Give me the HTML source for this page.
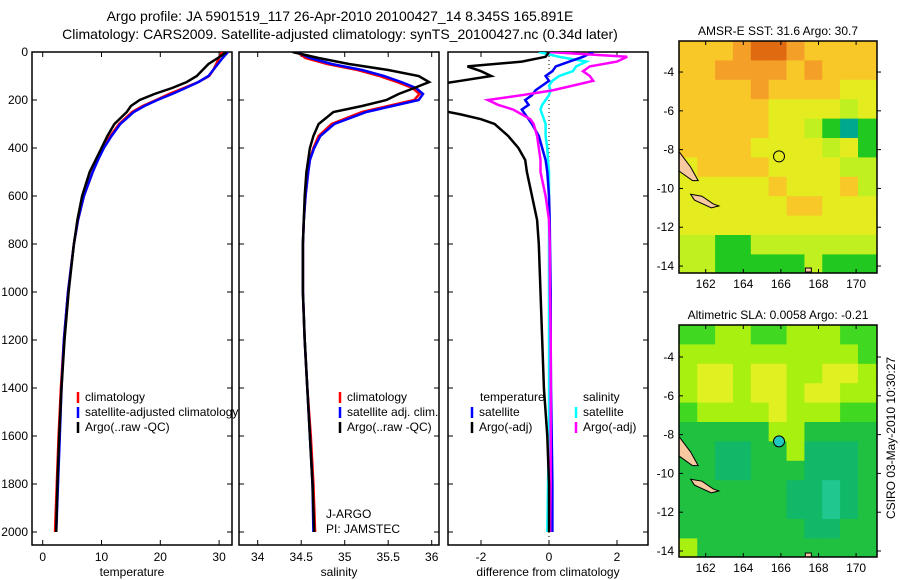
<!DOCTYPE html>
<html><head><meta charset="utf-8">
<style>
body{margin:0;background:#fff;}
svg{display:block;font-family:"Liberation Sans",sans-serif;}
text{font-size:12px;fill:#000;}
</style></head>
<body>
<svg id="chart" width="900" height="580" viewBox="0 0 900 580">
<text x="340" y="21" text-anchor="middle" style="font-size:14px">Argo profile: JA 5901519_117 26-Apr-2010 20100427_14 8.345S 165.891E</text>
<text x="340" y="39" text-anchor="middle" style="font-size:14px">Climatology: CARS2009. Satellite-adjusted climatology: synTS_20100427.nc (0.34d later)</text>
<g id="layer"></g>
</svg>
<script>
// ---- profile data ----
const depths = [0,25,50,75,100,125,150,175,200,225,250,300,350,400,450,500,600,700,800,1000,1200,1400,1600,1800,2000];
const argoT = [31.3,29.8,28.2,27.2,26.2,24.5,22,19,16.5,15,14.3,12.2,11,10,9,8,6.7,5.9,5.3,4.4,3.7,3.2,2.8,2.5,2.3];
const climT = [30.5,30,29.5,29,28.3,26.5,24,21.5,19.3,17,15.2,13,11.5,10.3,9.3,8.5,7,6,5.3,4.3,3.6,3.1,2.7,2.4,2.1];
const satT = [31.5,30.6,29.8,29,28.2,26.5,24.3,22,19.5,17.3,15.5,13.2,11.7,10.4,9.4,8.5,7,6,5.3,4.3,3.6,3.2,2.9,2.6,2.3];
const argoS = [34.4,34.7,35.05,35.5,35.85,35.97,35.8,35.62,35.48,35.2,34.87,34.7,34.64,34.6,34.58,34.56,34.54,34.53,34.52,34.52,34.54,34.57,34.6,34.63,34.65];
const climS = [34.45,34.55,34.8,35.15,35.4,35.6,35.78,35.86,35.8,35.5,35.2,34.85,34.7,34.64,34.6,34.58,34.55,34.53,34.52,34.52,34.54,34.57,34.61,34.64,34.66];
const satS = [34.45,34.6,34.85,35.2,35.45,35.65,35.82,35.9,35.85,35.55,35.25,34.88,34.72,34.65,34.6,34.58,34.55,34.53,34.52,34.52,34.54,34.57,34.6,34.63,34.64];
const dDepths = [0,20,40,60,80,100,120,140,160,180,200,220,240,260,280,300,350,400,450,500,600,700,800,1000,1200,1400,1600,1800,2000];
const diffArgoT = [0,-0.1,-0.8,-2.4,-2.0,-1.7,-2.6,-3.5,-3.5,-3.5,-3.5,-3.5,-3.3,-2.6,-2.0,-1.6,-1.2,-0.9,-0.7,-0.65,-0.5,-0.35,-0.3,-0.25,-0.2,-0.15,-0.05,0,0];
const diffSatT = [1.3,1.0,0.6,0.2,0.1,-0.1,0,-0.2,-0.4,-0.5,-0.7,-0.6,-0.8,-0.7,-0.6,-0.5,-0.3,-0.2,-0.1,-0.05,0,0.02,0.03,0.05,0.05,0.06,0.08,0.1,0.1];
const diffArgoS = [0,2.3,2.0,1.2,1.0,1.2,1.3,0.7,0.1,-0.8,-1.8,-1.5,-1.05,-0.8,-0.55,-0.45,-0.35,-0.3,-0.25,-0.25,-0.1,0,0.02,0.03,0.05,0.05,0.05,0.05,0.03];
const diffSatS = [-0.3,0.3,1.1,0.8,0.7,0.3,0.1,0,0.05,0,-0.1,-0.2,-0.25,-0.2,-0.15,-0.1,-0.1,-0.05,-0.03,0,0,0,0,0,0,0,0,-0.03,-0.05];
const depthTicks = [0,200,400,600,800,1000,1200,1400,1600,1800,2000];
const tTicks = [0,10,20,30];
const sTicks = [34,34.5,35,35.5,36];
const dTicks = [-2,0,2];
// ---- map data (1-degree cells, rows north->south) ----
const sstRows = [
[2,2,2,1,0,0,1,2,2,2,2],[2,2,1,1,1,1,2,1,2,2,2],[2,2,2,2,1,2,2,2,2,3,3],[2,2,2,2,2,3,3,3,3,4,3],
[2,2,2,2,2,3,3,4,5,6,5],[2,2,2,2,3,3,3,3,4,3,5],[3,2,2,2,2,3,3,3,3,4,4],[3,3,3,3,3,2,3,3,3,2,4],
[3,3,3,3,3,3,2,2,3,3,3],[3,3,3,3,3,3,3,3,3,3,3],[4,4,5,5,4,4,4,4,4,4,4],[4,4,5,5,5,5,5,4,5,5,5]];
const sstColors = ["#e06a10","#f4a028","#f8c828","#e4ec20","#c0f020","#20c820","#00a890"];
const slaRows = [
[0,0,1,1,0,0,1,1,1,0,0],[1,1,1,1,1,1,1,1,1,1,0],[1,2,2,1,2,2,1,1,2,2,1],[1,2,2,1,2,2,1,2,2,1,1],
[0,1,1,1,1,2,1,1,1,0,0],[3,3,3,3,3,1,1,3,3,3,3],[3,3,4,4,3,3,1,4,4,4,3],[3,3,4,4,3,3,3,4,4,4,3],
[3,3,3,3,3,3,4,4,5,4,3],[3,3,3,3,3,3,4,4,5,4,3],[3,3,3,3,3,3,3,4,4,3,3],[1,3,3,3,3,3,3,3,3,3,3]];
const slaColors = ["#40d820","#a8f010","#e0f020","#20c040","#10b868","#20c890"];
const lonTicks = [162,164,166,168,170];
const latTicks = [-4,-6,-8,-10,-12,-14];

const NS="http://www.w3.org/2000/svg";
const layer=document.getElementById('layer');
function mk(tag,attrs,parent){const e=document.createElementNS(NS,tag);for(const k in attrs)e.setAttribute(k,attrs[k]);(parent||layer).appendChild(e);return e;}
const yD=d=>52+d*0.24;

function panel(x0,x1,xs,ticks,fmt,label,name,showY){
  const g=mk('g',{});
  
  
  const cp=mk('clipPath',{id:'cp'+name},g);mk('rect',{x:x0,y:52,width:x1-x0,height:493},cp);
  const f=mk('rect',{x:x0,y:52,width:x1-x0,height:493,fill:'none',stroke:'#000','stroke-width':1.5},g);
  
  
  ticks.forEach(t=>{const x=xs(t);
    mk('line',{x1:x,x2:x,y1:52,y2:57,stroke:'#000'},g);mk('line',{x1:x,x2:x,y1:545,y2:540,stroke:'#000'},g);
    const tl=mk('text',{x:x,y:561,'text-anchor':'middle'},g);tl.textContent=fmt(t);
    
    });
  depthTicks.forEach(d=>{const y=yD(d);
    mk('line',{x1:x0,x2:x0+5,y1:y,y2:y,stroke:'#000'},g);mk('line',{x1:x1,x2:x1-5,y1:y,y2:y,stroke:'#000'},g);
    if(showY){const tl=mk('text',{x:x0-4,y:y+4,'text-anchor':'end'},g);tl.textContent=d;
      
      }});
  const xl=mk('text',{x:(x0+x1)/2,y:576,'text-anchor':'middle'},g);xl.textContent=label;
  
  
  return g;
}
function series(g,clip,xs,dep,vals,color,name){
  const pts=dep.map((d,i)=>xs(vals[i]).toFixed(1)+','+yD(d).toFixed(1)).join(' ');
  const p=mk('polyline',{points:pts,fill:'none',stroke:color,'stroke-width':2.5,'clip-path':'url(#'+clip+')'},g);
  
  
}
function legend(g,x,y,items){
  items.forEach((it,i)=>{const yy=y+i*15;
    mk('line',{x1:x,x2:x,y1:yy-9,y2:yy+2,stroke:it[1],'stroke-width':2.5},g);
    const t=mk('text',{x:x+7,y:yy},g);t.textContent=it[0];
    
    });
}
// panel 1
const xT=v=>42.7+v*5.88;
const g1=panel(32,232,xT,tTicks,v=>v,'temperature','temperature-panel',true);
series(g1,'cptemperature-panel',xT,depths,climT,'#f00','climatology-temperature-line');
series(g1,'cptemperature-panel',xT,depths,satT,'#00f','satellite-temperature-line');
series(g1,'cptemperature-panel',xT,depths,argoT,'#000','argo-temperature-line');
legend(g1,78,401,[['climatology','#f00'],['satellite-adjusted climatology','#00f'],['Argo(..raw -QC)','#000']]);
// panel 2
const xS=v=>257.7+(v-34)*87;
const g2=panel(239,439,xS,sTicks,v=>v,'salinity','salinity-panel',false);
series(g2,'cpsalinity-panel',xS,depths,climS,'#f00','climatology-salinity-line');
series(g2,'cpsalinity-panel',xS,depths,satS,'#00f','satellite-salinity-line');
series(g2,'cpsalinity-panel',xS,depths,argoS,'#000','argo-salinity-line');
legend(g2,340,401,[['climatology','#f00'],['satellite adj. clim.','#00f'],['Argo(..raw -QC)','#000']]);
const j1=mk('text',{x:326,y:518},g2);j1.textContent='J-ARGO';


const j2=mk('text',{x:326,y:533},g2);j2.textContent='PI: JAMSTEC';


// panel 3
const xDf=v=>549+v*34;
const g3=panel(448,648,xDf,dTicks,v=>v,'difference from climatology','difference-panel',false);
mk('line',{x1:549,x2:549,y1:52,y2:545,stroke:'#000','stroke-dasharray':'1,3'},g3);
series(g3,'cpdifference-panel',xDf,dDepths,diffSatS,'#0ff','satellite-salinity-diff-line');
series(g3,'cpdifference-panel',xDf,dDepths,diffSatT,'#00f','satellite-temperature-diff-line');
series(g3,'cpdifference-panel',xDf,dDepths,diffArgoS,'#f0f','argo-salinity-diff-line');
series(g3,'cpdifference-panel',xDf,dDepths,diffArgoT,'#000','argo-temperature-diff-line');
const lt=mk('text',{x:480,y:401},g3);lt.textContent='temperature';


const ls=mk('text',{x:583,y:401},g3);ls.textContent='salinity';


legend(g3,472,416,[['satellite','#00f'],['Argo(-adj)','#000']]);
legend(g3,576,416,[['satellite','#0ff'],['Argo(-adj)','#f0f']]);

// maps
function map(top,latTop,rows,colors,title,name,markerFill){
  const g=mk('g',{});
  
  
  const L=679,R=877,B=top+232,ppd=19.4;
  const xL=lon=>705.7+(lon-162)*18.8;
  const yL=lat=>top+(latTop-lat)*ppd;
  const cp=mk('clipPath',{id:'cp'+name},g);mk('rect',{x:L,y:top,width:R-L,height:B-top},cp);
  const cg=mk('g',{'clip-path':'url(#cp'+name+')'},g);
  rows.forEach((row,r)=>row.forEach((v,c)=>{
    const lon0=160.6+c*0.95, lat0=latTop-r*1.0;
    const cell=mk('rect',{x:xL(lon0),y:yL(lat0),width:0.95*18.8+0.6,height:ppd+0.6,fill:colors[v]},cg);
    
    }));
  const land=mk('path',{d:`M${L} ${yL(-8.1)} L${xL(161.2)} ${yL(-8.9)} L${xL(161.6)} ${yL(-9.6)} L${xL(161.3)} ${yL(-9.6)} L${L} ${yL(-9.1)} Z M${xL(161.2)} ${yL(-10.3)} L${xL(161.8)} ${yL(-10.4)} L${xL(162.4)} ${yL(-10.8)} L${xL(162.7)} ${yL(-10.9)} L${xL(162.3)} ${yL(-11)} L${xL(161.4)} ${yL(-10.6)} Z M${xL(167.3)} ${yL(-14.1)} h6 v4 h-6 Z`,fill:'#f8c8a0',stroke:'#000','stroke-width':1},cg);
  
  
  const m=mk('circle',{cx:xL(165.9),cy:yL(-8.35),r:5.5,fill:markerFill,stroke:'#000','stroke-width':1},g);
  
  
  mk('rect',{x:L,y:top,width:R-L,height:B-top,fill:'none',stroke:'#000','stroke-width':1.5},g);
  lonTicks.forEach(lo=>{const x=xL(lo);mk('line',{x1:x,x2:x,y1:top,y2:top+4,stroke:'#000'},g);mk('line',{x1:x,x2:x,y1:B,y2:B-4,stroke:'#000'},g);
    const t=mk('text',{x:x,y:B+15,'text-anchor':'middle'},g);t.textContent=lo;
    
    });
  latTicks.forEach(la=>{const y=yL(la);mk('line',{x1:L,x2:L+4,y1:y,y2:y,stroke:'#000'},g);mk('line',{x1:R,x2:R+4,y1:y,y2:y,stroke:'#000'},g);
    const t=mk('text',{x:L-5,y:y+4,'text-anchor':'end'},g);t.textContent=la;
    
    });
  const tt=mk('text',{x:(L+R)/2,y:top-6,'text-anchor':'middle'},g);tt.textContent=title;
  
  
}
map(41,-2.4,sstRows,sstColors,'AMSR-E SST: 31.6  Argo: 30.7','sst-map','none');
map(325,-2.35,slaRows,slaColors,'Altimetric SLA: 0.0058  Argo: -0.21','sla-map','#20c8c0');
const cs=mk('text',{x:0,y:0,'text-anchor':'middle',transform:'translate(895,438) rotate(-90)'});
cs.textContent='CSIRO 03-May-2010 10:30:27';


</script>
</body></html>
